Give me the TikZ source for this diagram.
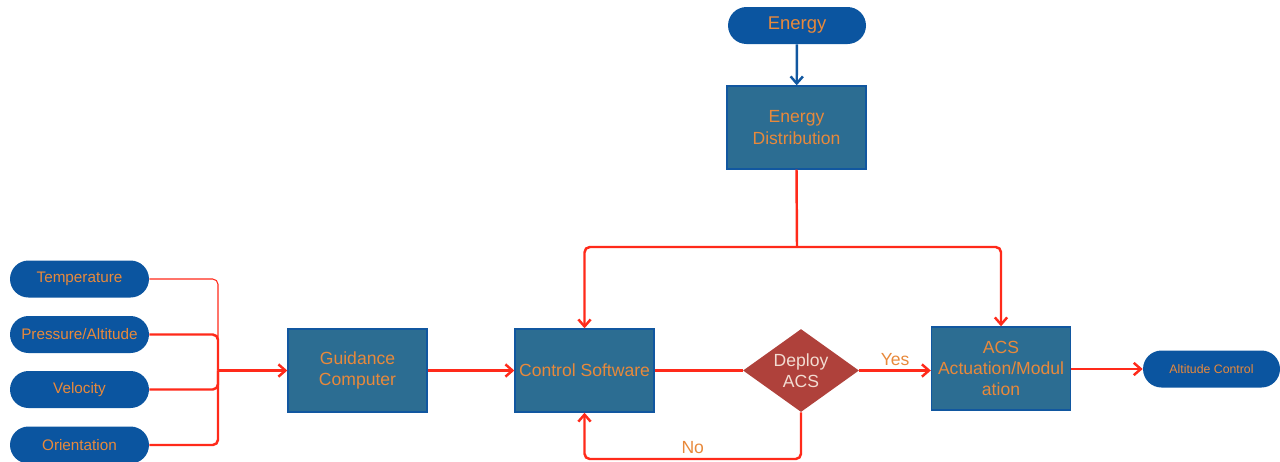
\documentclass[tikz,border=0pt]{standalone}
\usepackage{fontspec}
\setmainfont{Liberation Sans}
\usetikzlibrary{shapes.geometric,shapes.misc,arrows.meta}
\definecolor{pillblue}{HTML}{0B55A0}
\definecolor{boxfill}{HTML}{2C6D92}
\definecolor{boxedge}{HTML}{1157A0}
\definecolor{txtorange}{HTML}{E8893B}
\definecolor{linered}{HTML}{FF2A1A}
\definecolor{diafill}{HTML}{AF413B}
\definecolor{diatext}{HTML}{F2DCD2}
\begin{document}
\begin{tikzpicture}[x=0.02cm,y=-0.02cm,
  pill/.style={rounded rectangle,fill=pillblue,draw=none,text=txtorange,minimum width=2.78cm,minimum height=0.74cm,font=\fontsize{8.7}{10}\selectfont,inner sep=0pt},
  blockbox/.style={rectangle,fill=boxfill,draw=boxedge,line width=0.8pt,text=txtorange,minimum width=2.78cm,minimum height=1.66cm,align=center,font=\fontsize{10}{12}\selectfont,inner sep=1pt},
  flow/.style={draw=linered,line width=1.4pt,rounded corners=3pt,-{Straight Barb[length=4pt,width=7pt]}},
  flowline/.style={draw=linered,line width=1.4pt,rounded corners=3pt}
]
\useasboundingbox (0,0) rectangle (1280,461);
% nodes
\node[pill,minimum width=2.76cm] (energy) at (797,25.5) {\fontsize{10.5}{12}\selectfont Energy};
\node[blockbox] (edist) at (796.5,127.5) {Energy\\Distribution};
\node[pill] (temp) at (79.5,279) {Temperature};
\node[pill] (press) at (79.5,334.5) {Pressure/Altitude};
\node[pill] (vel) at (79.5,389.5) {Velocity};
\node[pill] (orient) at (79.5,445) {Orientation};
\node[blockbox] (guid) at (357.5,370.5) {Guidance\\Computer};
\node[blockbox] (ctrl) at (584.5,370.5) {Control Software};
\node[diamond,fill=diafill,draw=none,text=diatext,minimum width=2.32cm,minimum height=1.66cm,aspect=1.4,inner sep=0pt,align=center,font=\fontsize{10}{12}\selectfont] (dep) at (801,370.5) {Deploy\\ACS};
\node[blockbox,text width=2.7cm] (acs) at (1001,368.5) {ACS\\Actuation/Modul\\ation};
\node[pill,minimum width=2.74cm,font=\fontsize{7}{8}\selectfont] (alt) at (1211.5,369) {Altitude Control};
\coordinate (bus) at (218,370.5);
\coordinate (split) at (797,247);
% connectors
\draw[draw=boxedge,line width=1.4pt,-{Straight Barb[length=4pt,width=7pt]}] (energy) -- (edist);
\draw[flowline,line width=0.6pt] (temp.east) -| (bus);
\draw[flowline] (press.east) -| (bus);
\draw[flowline] (vel.east) -| (bus);
\draw[flowline] (orient.east) -| (bus);
\draw[flow] (bus) -- (guid.west);
\draw[flow] (guid) -- (ctrl);
\draw[flowline] (ctrl) -- (dep);
\draw[flow] (dep) -- node[above,text=txtorange,font=\fontsize{10}{12}\selectfont,pos=0.5,yshift=-1pt]{Yes} (dep.east -| acs.west);
\draw[flow] (acs.east |- alt) -- (alt.west);
\draw[flowline] (edist.south) -- (split);
\draw[flow] (split) -| (ctrl.north);
\draw[flow] (split) -| (acs.north);
\draw[flow] (dep.south) -- (801,459) -- node[above,text=txtorange,font=\fontsize{10}{12}\selectfont,pos=0.5,yshift=-1pt]{No} (584.5,459) -- (ctrl.south);
\end{tikzpicture}
\end{document}
